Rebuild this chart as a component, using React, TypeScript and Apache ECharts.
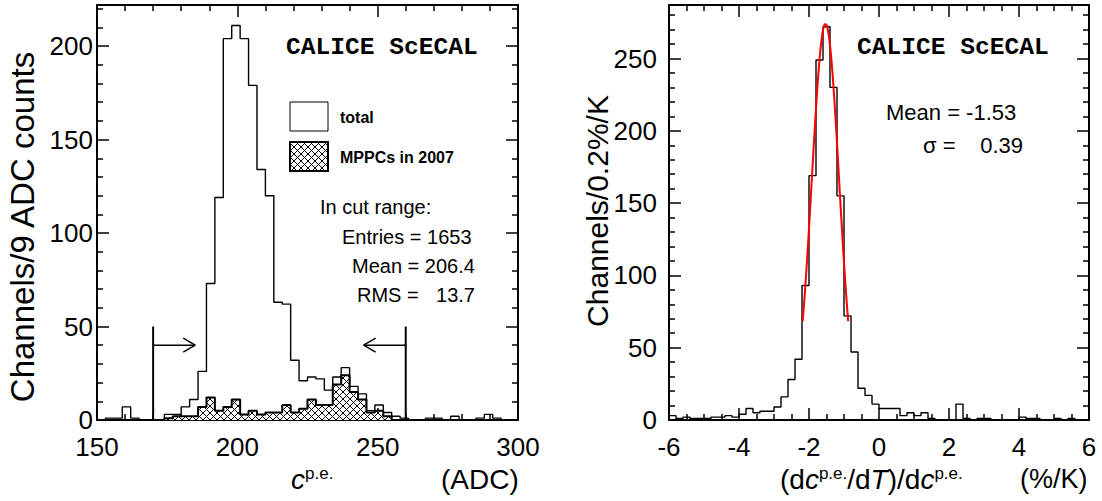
import React, { useEffect, useRef } from "react";
import * as echarts from "echarts";

// ---------------- data ----------------
// left panel: c^{p.e.} distribution (ADC), bins of 3 ADC from 150 to 300
const LEFT_BIN_START = 150;
const LEFT_BIN_WIDTH = 3;
const leftTotalCounts = [
  0, 1, 1, 7, 1, 0, 0, 0, 3, 3,
  7, 11, 26, 73, 119, 204, 211, 204, 179, 134,
  120, 63, 62, 32, 21, 23, 22, 16, 23, 28,
  18, 14, 5, 8, 4, 2, 1, 0, 0, 1,
  1, 0, 2, 0, 0, 1, 3, 1, 0, 0,
];
const leftMppcCounts = [
  0, 0, 0, 0, 0, 0, 0, 0, 1, 2,
  2, 2, 7, 12, 5, 7, 11, 3, 5, 3,
  4, 4, 8, 4, 6, 11, 8, 8, 19, 24,
  15, 11, 4, 5, 2, 0, 0, 0, 0, 0,
  0, 0, 0, 0, 0, 0, 0, 0, 0, 0,
];
const leftXTicks = [150, 200, 250, 300];
const leftYTicks = [0, 50, 100, 150, 200];
const CUT_LOW = 170;
const CUT_HIGH = 260;
const CUT_LINE_TOP = 50;
const ARROW_Y = 40;
const ARROW_LEN = 15;
const leftStats = ["In cut range:", "Entries = 1653", "Mean = 206.4", "RMS ="];
const leftRmsValue = "13.7";

// right panel: temperature coefficient (%/K), bins of 0.2 from -6 to 6
const RIGHT_BIN_START = -6;
const RIGHT_BIN_WIDTH = 0.2;
const rightCounts = [
  3, 1, 2, 1, 1, 1, 2, 2, 3, 2,
  4, 8, 5, 6, 6, 9, 16, 28, 42, 93,
  169, 249, 272, 230, 155, 72, 47, 22, 17, 11,
  8, 8, 8, 3, 5, 3, 5, 1, 0, 0,
  0, 11, 1, 0, 1, 1, 0, 0, 0, 0,
  2, 1, 1, 0, 0, 1, 0, 1, 0, 0,
];
const rightXTicks = [-6, -4, -2, 0, 2, 4, 6];
const rightYTicks = [0, 50, 100, 150, 200, 250];
// Gaussian fit parameters (as printed on the plot) and fit range
const FIT_MEAN = -1.53;
const FIT_SIGMA = 0.39;
const FIT_AMPLITUDE = 274;
const FIT_RANGE = [-2.18, -0.88];
const rightStatsMean = "Mean = -1.53";
const rightStatsSigmaLabel = "σ =";
const rightStatsSigmaValue = "0.39";

const WATERMARK = "CALICE ScECAL";

// ---------------- styles ----------------
const FONT = "'Liberation Sans', Arial, Helvetica, sans-serif";
const MONO = "'Liberation Mono', 'Courier New', monospace";
const TICK_FONT = 26;

function edgesLine(start: number, width: number, counts: number[]) {
  const pts: number[][] = counts.map((c, i) => [start + i * width, c]);
  pts.push([start + counts.length * width, counts[counts.length - 1]]);
  return pts;
}
function binRects(start: number, width: number, counts: number[]) {
  return counts.map((c, i) => [start + i * width, start + (i + 1) * width, c]);
}
function fitCurve() {
  const pts: number[][] = [];
  const n = 80;
  for (let i = 0; i <= n; i++) {
    const x = FIT_RANGE[0] + ((FIT_RANGE[1] - FIT_RANGE[0]) * i) / n;
    const z = (x - FIT_MEAN) / FIT_SIGMA;
    pts.push([x, FIT_AMPLITUDE * Math.exp(-0.5 * z * z)]);
  }
  return pts;
}

function makeHatch() {
  const c = document.createElement("canvas");
  const s = 7;
  c.width = s;
  c.height = s;
  const ctx = c.getContext("2d")!;
  ctx.fillStyle = "#ffffff";
  ctx.fillRect(0, 0, s, s);
  ctx.strokeStyle = "#000000";
  ctx.lineWidth = 1;
  ctx.beginPath();
  ctx.moveTo(0, 0);
  ctx.lineTo(s, s);
  ctx.moveTo(s, 0);
  ctx.lineTo(0, s);
  ctx.stroke();
  return { image: c.toDataURL(), repeat: "repeat", imageWidth: s, imageHeight: s };
}

function valueAxis(opts: any) {
  const { min, max, interval, minorSplit, position, gridIndex, showLabels, labelMargin, ticks } = opts;
  return {
    type: "value",
    gridIndex,
    position,
    min,
    max,
    interval,
    axisLine: { show: true, onZero: false, lineStyle: { color: "#000", width: 2 } },
    axisTick: { show: true, inside: true, length: 12, lineStyle: { color: "#000", width: 1.5 } },
    minorTick: { show: true, splitNumber: minorSplit, length: 6, lineStyle: { color: "#000", width: 1.5 } },
    splitLine: { show: false },
    axisLabel: {
      show: showLabels,
      color: "#000",
      fontFamily: FONT,
      fontSize: TICK_FONT,
      margin: labelMargin,
      showMaxLabel: ticks ? ticks.includes(max) : true,
      showMinLabel: true,
      formatter: (v: number) => (ticks && !ticks.includes(v) ? "" : String(v)),
    },
  };
}

export default function App() {
  const ref = useRef<HTMLDivElement>(null);
  useEffect(() => {
    if (!ref.current) return;
    const chart = echarts.init(ref.current, undefined, { renderer: "svg" });
    const hatch = makeHatch();

    const LEFT_MAX_Y = 222;
    const RIGHT_MAX_Y = 287;

    const option: any = {
      animation: false,
      backgroundColor: "#fff",
      grid: [
        { left: 97, top: 5, width: 421, height: 415 },
        { left: 669, top: 5, width: 420, height: 415 },
      ],
      xAxis: [
        valueAxis({ gridIndex: 0, position: "bottom", min: 150, max: 300, interval: 50, minorSplit: 5, showLabels: true, labelMargin: 14, ticks: leftXTicks }),
        valueAxis({ gridIndex: 0, position: "top", min: 150, max: 300, interval: 50, minorSplit: 5, showLabels: false, labelMargin: 10 }),
        valueAxis({ gridIndex: 1, position: "bottom", min: -6, max: 6, interval: 2, minorSplit: 4, showLabels: true, labelMargin: 14, ticks: rightXTicks }),
        valueAxis({ gridIndex: 1, position: "top", min: -6, max: 6, interval: 2, minorSplit: 4, showLabels: false, labelMargin: 10 }),
      ],
      yAxis: [
        valueAxis({ gridIndex: 0, position: "left", min: 0, max: LEFT_MAX_Y, interval: 50, minorSplit: 5, showLabels: true, labelMargin: 4, ticks: leftYTicks }),
        valueAxis({ gridIndex: 0, position: "right", min: 0, max: LEFT_MAX_Y, interval: 50, minorSplit: 5, showLabels: false, labelMargin: 4 }),
        valueAxis({ gridIndex: 1, position: "left", min: 0, max: RIGHT_MAX_Y, interval: 50, minorSplit: 5, showLabels: true, labelMargin: 12, ticks: rightYTicks }),
        valueAxis({ gridIndex: 1, position: "right", min: 0, max: RIGHT_MAX_Y, interval: 50, minorSplit: 5, showLabels: false, labelMargin: 12 }),
      ],
      series: [
        {
          name: "total",
          type: "line",
          xAxisIndex: 0,
          yAxisIndex: 0,
          step: "end",
          symbol: "none",
          data: edgesLine(LEFT_BIN_START, LEFT_BIN_WIDTH, leftTotalCounts),
          lineStyle: { color: "#000", width: 1.4 },
          z: 3,
        },
        {
          name: "MPPCs in 2007",
          type: "custom",
          xAxisIndex: 0,
          yAxisIndex: 0,
          data: binRects(LEFT_BIN_START, LEFT_BIN_WIDTH, leftMppcCounts),
          encode: { x: [0, 1], y: 2 },
          renderItem: (params: any, api: any) => {
            const lo = api.value(0);
            const hi = api.value(1);
            const v = api.value(2);
            if (!v) return null;
            const p0 = api.coord([lo, v]);
            const p1 = api.coord([hi, 0]);
            return {
              type: "rect",
              shape: { x: p0[0], y: p0[1], width: p1[0] - p0[0], height: p1[1] - p0[1] },
              style: { fill: hatch, stroke: null },
            };
          },
          z: 4,
        },
        {
          name: "MPPCs outline",
          type: "line",
          xAxisIndex: 0,
          yAxisIndex: 0,
          step: "end",
          symbol: "none",
          data: edgesLine(LEFT_BIN_START, LEFT_BIN_WIDTH, leftMppcCounts),
          lineStyle: { color: "#000", width: 2 },
          z: 5,
        },
        {
          name: "cuts",
          type: "custom",
          xAxisIndex: 0,
          yAxisIndex: 0,
          data: [
            [CUT_LOW, 1],
            [CUT_HIGH, -1],
          ],
          encode: { x: 0 },
          renderItem: (params: any, api: any) => {
            const x = api.value(0);
            const dir = api.value(1);
            const b = api.coord([x, 0]);
            const t = api.coord([x, CUT_LINE_TOP]);
            const a0 = api.coord([x, ARROW_Y]);
            const a1 = api.coord([x + dir * ARROW_LEN, ARROW_Y]);
            const hl = 12;
            const hw = 7;
            const st = { stroke: "#000", lineWidth: 1.5 };
            return {
              type: "group",
              children: [
                { type: "line", shape: { x1: b[0], y1: b[1], x2: t[0], y2: t[1] }, style: { stroke: "#000", lineWidth: 2 } },
                { type: "line", shape: { x1: a0[0], y1: a0[1], x2: a1[0], y2: a1[1] }, style: st },
                { type: "line", shape: { x1: a1[0] - dir * hl, y1: a1[1] - hw, x2: a1[0], y2: a1[1] }, style: st },
                { type: "line", shape: { x1: a1[0] - dir * hl, y1: a1[1] + hw, x2: a1[0], y2: a1[1] }, style: st },
              ],
            };
          },
          z: 6,
        },
        {
          name: "dc/dT",
          type: "line",
          xAxisIndex: 2,
          yAxisIndex: 2,
          step: "end",
          symbol: "none",
          data: edgesLine(RIGHT_BIN_START, RIGHT_BIN_WIDTH, rightCounts),
          lineStyle: { color: "#000", width: 1.4 },
          z: 3,
        },
        {
          name: "fit",
          type: "line",
          xAxisIndex: 2,
          yAxisIndex: 2,
          symbol: "none",
          data: fitCurve(),
          lineStyle: { color: "#ff0000", width: 2 },
          z: 4,
        },
      ],
      graphic: [
        // left panel texts
        { type: "text", x: 286, y: 47, style: { text: WATERMARK, font: `bold 24.6px ${MONO}`, fill: "#000", verticalAlign: "middle" } },
        { type: "rect", shape: { x: 290, y: 102, width: 38, height: 29 }, style: { fill: "#fff", stroke: "#000", lineWidth: 1 } },
        { type: "text", x: 340, y: 117, style: { text: "total", font: `bold 16px ${FONT}`, fill: "#000", verticalAlign: "middle" } },
        { type: "rect", shape: { x: 290, y: 142, width: 38, height: 29 }, style: { fill: hatch, stroke: "#000", lineWidth: 2 } },
        { type: "text", x: 340, y: 157, style: { text: "MPPCs in 2007", font: `bold 16px ${FONT}`, fill: "#000", verticalAlign: "middle" } },
        { type: "text", x: 320, y: 207, style: { text: leftStats[0], font: `20px ${FONT}`, fill: "#000", verticalAlign: "middle" } },
        { type: "text", x: 342, y: 237, style: { text: leftStats[1], font: `20px ${FONT}`, fill: "#000", verticalAlign: "middle" } },
        { type: "text", x: 352, y: 266, style: { text: leftStats[2], font: `20px ${FONT}`, fill: "#000", verticalAlign: "middle" } },
        { type: "text", x: 357, y: 295, style: { text: leftStats[3], font: `20px ${FONT}`, fill: "#000", verticalAlign: "middle" } },
        { type: "text", x: 475, y: 295, style: { text: leftRmsValue, font: `20px ${FONT}`, fill: "#000", align: "right", verticalAlign: "middle" } },
        // right panel texts
        { type: "text", x: 857, y: 47, style: { text: WATERMARK, font: `bold 24.6px ${MONO}`, fill: "#000", verticalAlign: "middle" } },
        { type: "text", x: 886, y: 112, style: { text: rightStatsMean, font: `22px ${FONT}`, fill: "#000", verticalAlign: "middle" } },
        { type: "text", x: 923, y: 145, style: { text: rightStatsSigmaLabel, font: `22px ${FONT}`, fill: "#000", verticalAlign: "middle" } },
        { type: "text", x: 1023, y: 145, style: { text: rightStatsSigmaValue, font: `22px ${FONT}`, fill: "#000", align: "right", verticalAlign: "middle" } },
        // axis titles
        {
          type: "text",
          x: 22,
          y: 227,
          rotation: Math.PI / 2,
          style: { text: "Channels/9 ADC counts", font: `33px ${FONT}`, fill: "#000", align: "center", verticalAlign: "middle" },
        },
        {
          type: "text",
          x: 597,
          y: 211,
          rotation: Math.PI / 2,
          style: { text: "Channels/0.2%/K", font: `30px ${FONT}`, fill: "#000", align: "center", verticalAlign: "middle" },
        },
        {
          type: "text",
          x: 291,
          y: 479,
          style: {
            text: "{i|c}{s|p.e.}",
            verticalAlign: "middle",
            rich: {
              i: { fontStyle: "italic", fontSize: 28, fontFamily: FONT, fill: "#000", color: "#000" },
              s: { fontSize: 17, fontFamily: FONT, verticalAlign: "top", color: "#000", fill: "#000" },
            },
          },
        },
        { type: "text", x: 441, y: 479, style: { text: "(ADC)", font: `28px ${FONT}`, fill: "#000", verticalAlign: "middle" } },
        {
          type: "text",
          x: 780,
          y: 479,
          style: {
            text: "{n|(d}{i|c}{s|p.e.}{n|/d}{i|T}{n|)/d}{i|c}{s|p.e.}",
            verticalAlign: "middle",
            rich: {
              n: { fontSize: 28, fontFamily: FONT, color: "#000", fill: "#000" },
              i: { fontStyle: "italic", fontSize: 28, fontFamily: FONT, color: "#000", fill: "#000" },
              s: { fontSize: 17, fontFamily: FONT, verticalAlign: "top", color: "#000", fill: "#000" },
            },
          },
        },
        { type: "text", x: 1020, y: 479, style: { text: "(%/K)", font: `27px ${FONT}`, fill: "#000", verticalAlign: "middle" } },
      ],
    };
    chart.setOption(option);
    return () => chart.dispose();
  }, []);
  return <div ref={ref} style={{ position: "absolute", left: 0, top: 0, width: 1102, height: 501 }} />;
}
